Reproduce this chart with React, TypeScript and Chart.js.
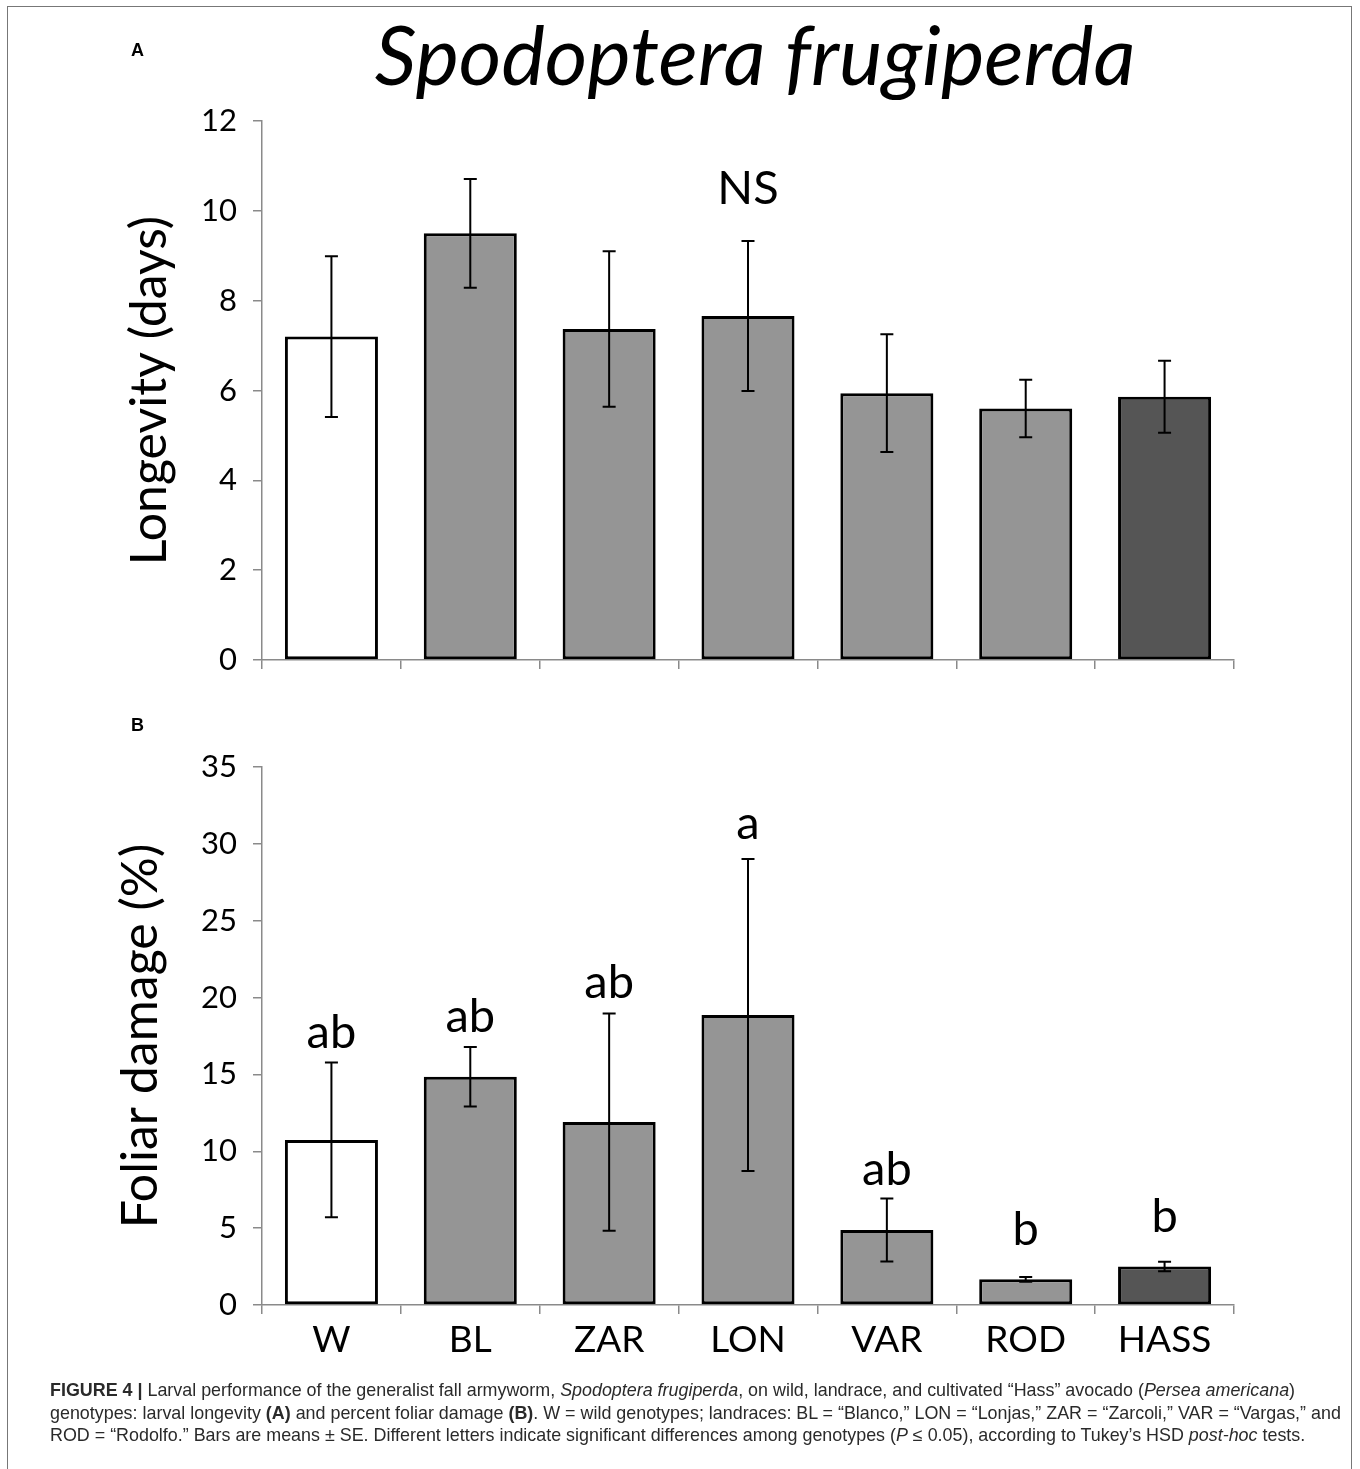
import React, { useEffect, useRef } from 'react';
import { Chart, registerables } from 'chart.js';

Chart.register(...registerables);

// ---------- data ----------
const categories = ['W', 'BL', 'ZAR', 'LON', 'VAR', 'ROD', 'HASS'];

const longevityMeans = [7.2, 9.5, 7.37, 7.66, 5.94, 5.6, 5.86];
const longevitySE = [1.79, 1.21, 1.73, 1.67, 1.31, 0.64, 0.8];
const longevityTicks = [0, 2, 4, 6, 8, 10, 12];
const longevityNote = 'NS';
const longevityNoteLevel = 10.15;
const longevityNoteIndex = 3;

const damageMeans = [10.74, 14.85, 11.9, 18.87, 4.88, 1.67, 2.51];
const damageSE = [5.03, 1.93, 7.07, 10.15, 2.05, 0.15, 0.31];
const damageTicks = [0, 5, 10, 15, 20, 25, 30, 35];
const damageLetters = ['ab', 'ab', 'ab', 'a', 'ab', 'b', 'b'];
const damageLetterLevels = [16.74, 17.74, 19.99, 30.34, 7.79, 3.9, 4.77];

// ---------- styles ----------
const barColors = ['#ffffff', '#959595', '#959595', '#959595', '#959595', '#959595', '#555555'];
const FONT = 'Lato, Carlito, Calibri, "Open Sans", sans-serif';
const AXIS_GRAY = '#8a8a8a';

type Annot = { index: number; text: string; level: number };

function makeErrorBarPlugin(errors: number[]) {
  return {
    id: 'errorBars',
    afterDatasetsDraw(chart: any) {
      const { ctx } = chart;
      const meta = chart.getDatasetMeta(0);
      const y = chart.scales.y;
      const values = chart.data.datasets[0].data as number[];
      ctx.save();
      ctx.strokeStyle = '#000';
      ctx.lineWidth = 2;
      meta.data.forEach((bar: any, i: number) => {
        const top = y.getPixelForValue(values[i] + errors[i]);
        const bot = y.getPixelForValue(values[i] - errors[i]);
        const x = bar.x;
        const cap = 6.5;
        ctx.beginPath();
        ctx.moveTo(x, top);
        ctx.lineTo(x, bot);
        ctx.moveTo(x - cap, top);
        ctx.lineTo(x + cap, top);
        ctx.moveTo(x - cap, bot);
        ctx.lineTo(x + cap, bot);
        ctx.stroke();
      });
      ctx.restore();
    },
  };
}

function makeAnnotPlugin(annots: Annot[], size: number) {
  return {
    id: 'annots',
    afterDatasetsDraw(chart: any) {
      const { ctx } = chart;
      const meta = chart.getDatasetMeta(0);
      const y = chart.scales.y;
      ctx.save();
      ctx.fillStyle = '#000';
      ctx.font = `${size}px ${FONT}`;
      ctx.textAlign = 'center';
      ctx.textBaseline = 'alphabetic';
      annots.forEach((a) => {
        const x = meta.data[a.index].x;
        ctx.fillText(a.text, x, y.getPixelForValue(a.level));
      });
      ctx.restore();
    },
  };
}

type PanelProps = {
  top: number;
  height: number;
  means: number[];
  errors: number[];
  ticks: number[];
  yTitle: string;
  titlePad: number;
  areaTop: number;
  areaBottom: number;
  showXLabels: boolean;
  annots: Annot[];
};

function Panel(p: PanelProps) {
  const ref = useRef<HTMLCanvasElement | null>(null);
  useEffect(() => {
    if (!ref.current) return;
    const ymin = p.ticks[0];
    const ymax = p.ticks[p.ticks.length - 1];
    const step = p.ticks[1] - p.ticks[0];
    const chart = new Chart(ref.current, {
      type: 'bar',
      data: {
        labels: categories,
        datasets: [
          {
            data: p.means,
            backgroundColor: barColors,
            borderColor: '#000',
            borderWidth: 3,
            borderSkipped: false,
            barPercentage: 0.67,
            categoryPercentage: 1,
          },
        ],
      },
      options: {
        animation: false,
        responsive: false,
        maintainAspectRatio: false,
        events: [],
        layout: { padding: { left: 0, top: p.areaTop, right: 126, bottom: 0 } },
        plugins: {
          legend: { display: false },
          tooltip: { enabled: false },
          title: { display: false },
        },
        scales: {
          x: {
            grid: {
              display: true,
              drawOnChartArea: false,
              drawTicks: true,
              tickLength: 9,
              color: AXIS_GRAY,
              lineWidth: 1.5,
              offset: true,
            },
            border: { display: true, color: AXIS_GRAY, width: 1.5 },
            ticks: {
              display: p.showXLabels,
              font: { family: FONT, size: 37 },
              color: '#000',
              padding: 4,
              maxRotation: 0,
              autoSkip: false,
            },
            afterFit: (s: any) => {
              s.height = p.height - p.areaBottom;
            },
          },
          y: {
            min: ymin,
            max: ymax,
            ticks: {
              stepSize: step,
              font: { family: FONT, size: 31 },
              color: '#000',
              padding: 16,
            },
            grid: {
              drawOnChartArea: false,
              drawTicks: true,
              tickLength: 9,
              color: AXIS_GRAY,
              lineWidth: 1.5,
            },
            border: { display: true, color: AXIS_GRAY, width: 1.5 },
            title: {
              display: true,
              text: p.yTitle,
              font: { family: FONT, size: 50 },
              color: '#000',
              padding: { top: p.titlePad, bottom: 0 },
            },
            afterFit: (s: any) => {
              s.width = 262;
            },
          },
        },
      } as any,
      plugins: [makeErrorBarPlugin(p.errors), makeAnnotPlugin(p.annots, 47)],
    });
    return () => chart.destroy();
  }, []);
  return (
    <canvas
      ref={ref}
      width={1360}
      height={p.height}
      style={{ position: 'absolute', left: 0, top: p.top, width: 1360, height: p.height }}
    />
  );
}

export default function App() {
  const annotsA: Annot[] = [{ index: longevityNoteIndex, text: longevityNote, level: longevityNoteLevel }];
  const annotsB: Annot[] = damageLetters.map((t, i) => ({ index: i, text: t, level: damageLetterLevels[i] }));
  return (
    <div
      style={{
        position: 'absolute',
        left: 0,
        top: 0,
        width: 1360,
        height: 1469,
        overflow: 'hidden',
        background: '#fff',
      }}
    >
      <div
        style={{
          position: 'absolute',
          left: 7,
          top: 6,
          width: 1345,
          height: 1520,
          border: '1.5px solid #777',
          boxSizing: 'border-box',
        }}
      />
      <Panel
        top={0}
        height={700}
        means={longevityMeans}
        errors={longevitySE}
        ticks={longevityTicks}
        yTitle="Longevity (days)"
        titlePad={120}
        areaTop={121}
        areaBottom={660}
        showXLabels={false}
        annots={annotsA}
      />
      <Panel
        top={690}
        height={690}
        means={damageMeans}
        errors={damageSE}
        ticks={damageTicks}
        yTitle="Foliar damage (%)"
        titlePad={111}
        areaTop={77}
        areaBottom={615}
        showXLabels={true}
        annots={annotsB}
      />
      <div
        style={{
          position: 'absolute',
          left: 355,
          top: 3,
          width: 800,
          textAlign: 'center',
          fontFamily: FONT,
          fontStyle: 'italic',
          fontSize: 82,
          lineHeight: '100px',
          color: '#000',
          whiteSpace: 'nowrap',
        }}
      >
        Spodoptera frugiperda
      </div>
      <div
        style={{
          position: 'absolute',
          left: 131,
          top: 40,
          fontFamily: '"Liberation Sans", Arial, sans-serif',
          fontWeight: 'bold',
          fontSize: 18,
          color: '#000',
        }}
      >
        A
      </div>
      <div
        style={{
          position: 'absolute',
          left: 131,
          top: 715,
          fontFamily: '"Liberation Sans", Arial, sans-serif',
          fontWeight: 'bold',
          fontSize: 18,
          color: '#000',
        }}
      >
        B
      </div>
      <div
        style={{
          position: 'absolute',
          left: 50,
          top: 1379,
          fontFamily: '"Liberation Sans", Arial, sans-serif',
          fontSize: 17.9,
          lineHeight: '22.5px',
          color: '#2a2a2a',
          whiteSpace: 'nowrap',
        }}
      >
        <div>
          <b>FIGURE 4 |</b> Larval performance of the generalist fall armyworm, <i>Spodoptera frugiperda</i>, on wild,
          landrace, and cultivated “Hass” avocado (<i>Persea americana</i>)
        </div>
        <div>
          genotypes: larval longevity <b>(A)</b> and percent foliar damage <b>(B)</b>. W = wild genotypes; landraces:
          BL = “Blanco,” LON = “Lonjas,” ZAR = “Zarcoli,” VAR = “Vargas,” and
        </div>
        <div>
          ROD = “Rodolfo.” Bars are means ± SE. Different letters indicate significant differences among genotypes (
          <i>P</i> ≤ 0.05), according to Tukey’s HSD <i>post-hoc</i> tests.
        </div>
      </div>
    </div>
  );
}
